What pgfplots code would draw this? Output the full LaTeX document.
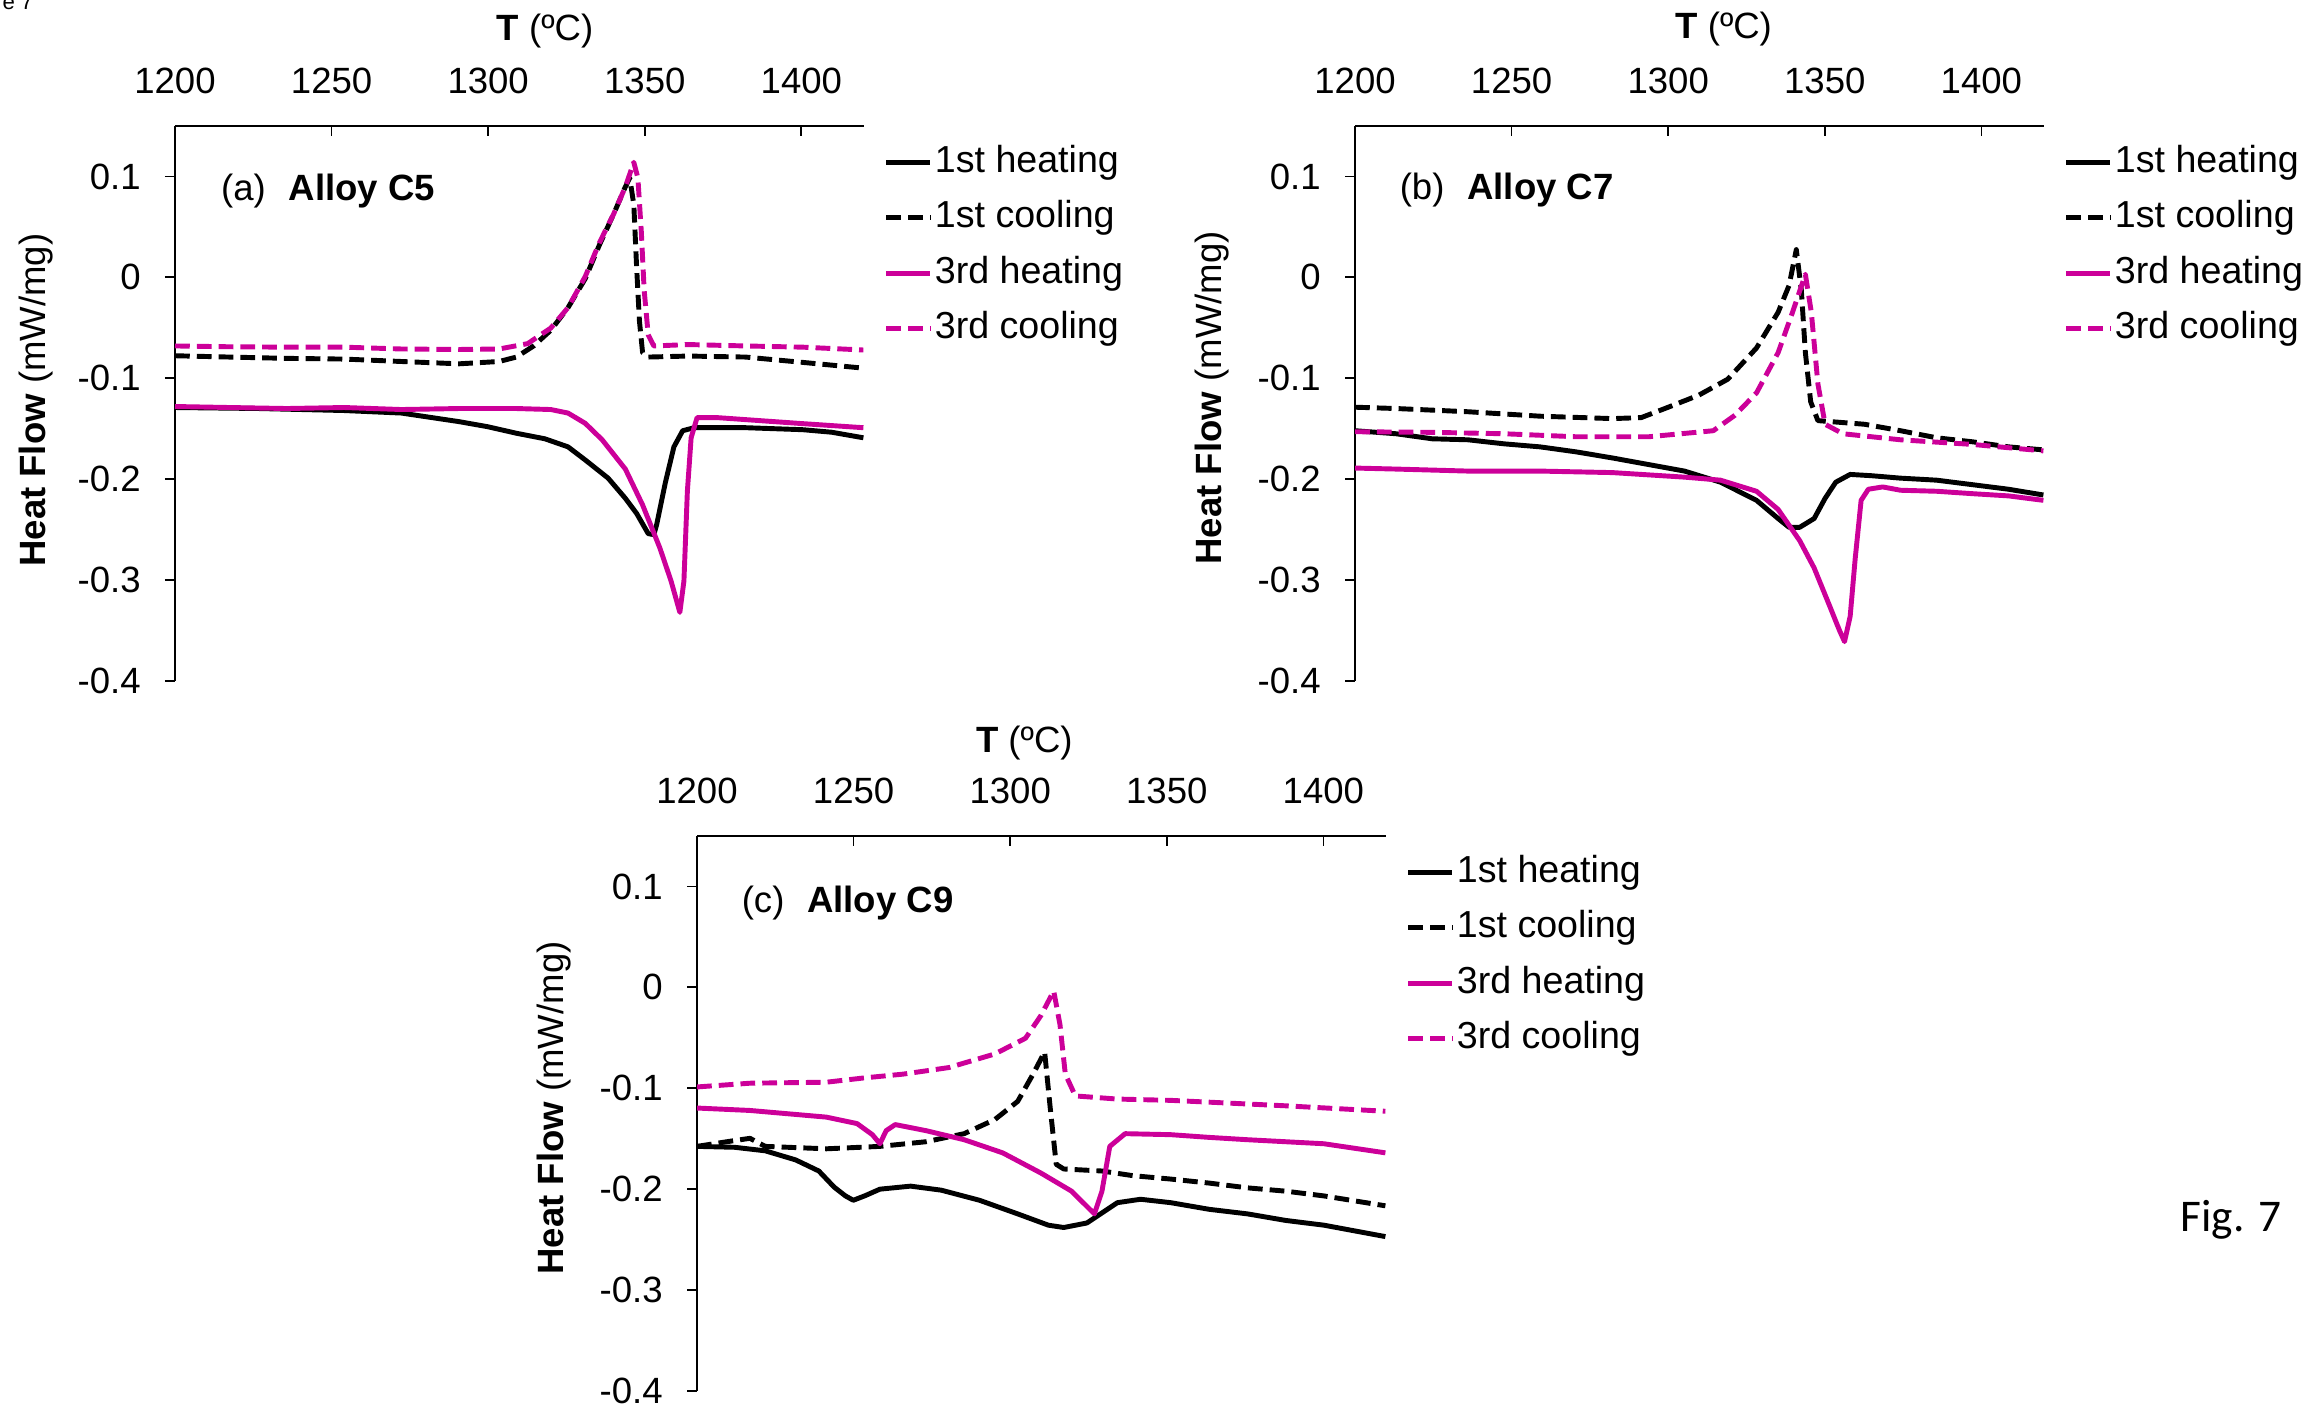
\documentclass[border=0pt]{standalone}
\usepackage{pgfplots}
\pgfplotsset{compat=1.18}
\usepackage{fontspec}
\setmainfont{Liberation Sans}
\newfontfamily\carlito{Carlito}
\definecolor{mag}{RGB}{204,0,153}

% common look of the three DSC panels
\pgfplotsset{
  dsc/.style={
    scale only axis, width=6.89cm, height=5.55cm,
    xmin=1200, xmax=1420, ymin=-0.4, ymax=0.15,
    axis x line=top, axis y line=left,
    axis line style={-, line width=0.5pt},
    every tick/.style={black, line width=0.5pt},
    xtick align=inside, ytick align=outside,
    major tick length=0.1cm,
    xtick={1200,1250,1300,1350,1400},
    xticklabels={1200,1250,1300,1350,1400},
    ytick={-0.4,-0.3,-0.2,-0.1,0,0.1},
    yticklabels={-0.4,-0.3,-0.2,-0.1,0,0.1},
    tick label style={font=\fontsize{10.4}{12}\selectfont},
    xticklabel style={yshift=0.2cm},
    yticklabel style={xshift=-0.12cm},
    clip mode=individual,
    legend cell align=left,
    legend image code/.code={\draw[##1] (0cm,0cm) -- (0.44cm,0cm);},
    legend style={at={(axis description cs:1.028,0.969)}, anchor=north west,
      draw=none, fill=none, inner sep=0pt, row sep=5.3pt,
      font=\fontsize{10.7}{12}\selectfont,
      nodes={inner sep=0pt, text height=8pt, text depth=2.5pt},
      /tikz/every odd column/.style={column sep=0.02cm}},
  },
  h1/.style={black, line width=1.4pt, line join=round},
  c1/.style={black, line width=1.4pt, line join=round, dash pattern=on 4.2pt off 2pt},
  h3/.style={mag, line width=1.4pt, line join=round},
  c3/.style={mag, line width=1.4pt, line join=round, dash pattern=on 4.2pt off 2pt},
}
\newcommand{\txt}{\fontsize{10.4}{12}\selectfont}

\begin{document}
\begin{tikzpicture}
\useasboundingbox (0,0) rectangle (23.10,14.07);

% ---------------- (a) Alloy C5 ----------------
\begin{axis}[dsc, at={(1.75cm,7.26cm)}, anchor=south west]
\addplot[h1] coordinates {
 (1200,-0.129) (1226.6,-0.130) (1254.0,-0.132) (1272.3,-0.1345) (1290.7,-0.143)
 (1299.8,-0.148) (1309.0,-0.1545) (1318.1,-0.160) (1325.5,-0.168) (1331.0,-0.181)
 (1338.3,-0.199) (1343.8,-0.219) (1347.4,-0.234) (1351.1,-0.254) (1352.9,-0.255)
 (1353.8,-0.245) (1356.6,-0.203) (1359.3,-0.168) (1362.1,-0.152) (1365.8,-0.149)
 (1382.2,-0.149) (1400.5,-0.151) (1409.7,-0.1535) (1419.8,-0.159)};
\addlegendentry{1st heating}
\addplot[c1] coordinates {
 (1200,-0.0777) (1217.4,-0.079) (1235.7,-0.0803) (1254.0,-0.081) (1272.3,-0.0834)
 (1290.7,-0.0857) (1303.5,-0.0834) (1309.0,-0.079) (1314.5,-0.068) (1320.0,-0.0524)
 (1325.5,-0.030) (1331.0,-0.0013) (1335.5,0.032) (1340.1,0.063) (1343.8,0.0897)
 (1345.2,0.0985) (1346.5,0.072) (1347.4,0.0098) (1348.3,-0.0435) (1349.3,-0.0746)
 (1351.1,-0.079) (1363.9,-0.078) (1382.2,-0.079) (1400.5,-0.0843) (1419.8,-0.090)};
\addlegendentry{1st cooling}
\addplot[h3] coordinates {
 (1200,-0.128) (1217.4,-0.129) (1235.7,-0.130) (1254.0,-0.129) (1272.3,-0.131)
 (1290.7,-0.130) (1309.0,-0.130) (1320.0,-0.131) (1325.5,-0.1345) (1331.0,-0.1447)
 (1336.4,-0.161) (1343.8,-0.190) (1349.3,-0.2255) (1354.8,-0.268) (1358.4,-0.301)
 (1361.2,-0.332) (1362.5,-0.301) (1363.6,-0.212) (1364.8,-0.159) (1366.7,-0.139)
 (1373.1,-0.139) (1382.2,-0.141) (1400.5,-0.145) (1419.8,-0.149)};
\addlegendentry{3rd heating}
\addplot[c3] coordinates {
 (1200,-0.068) (1217.4,-0.0688) (1235.7,-0.0692) (1254.0,-0.0692) (1272.3,-0.071)
 (1290.7,-0.0715) (1303.5,-0.071) (1312.6,-0.0657) (1320.0,-0.0502) (1325.5,-0.030)
 (1331.0,0.0009) (1335.5,0.0342) (1340.1,0.063) (1343.8,0.0897) (1346.5,0.114)
 (1347.8,0.0985) (1348.9,0.045) (1349.8,-0.0124) (1351.1,-0.057) (1352.9,-0.068)
 (1363.9,-0.0666) (1382.2,-0.068) (1400.5,-0.0692) (1419.8,-0.072)};
\addlegendentry{3rd cooling}
\node[anchor=center, font=\txt] at (axis description cs:0.537,1.171) {\textbf{T} (ºC)};
\node[rotate=90, anchor=center, font=\txt] at (axis description cs:-0.2017,0.506) {\textbf{Heat Flow} (mW/mg)};
\node[anchor=base west, inner sep=0pt, font=\txt] at (axis description cs:0.066,0.865) {(a)\hspace{6.5pt}\textbf{Alloy C5}};
\end{axis}

% ---------------- (b) Alloy C7 ----------------
\begin{axis}[dsc, at={(13.55cm,7.26cm)}, anchor=south west]
\addplot[h1] coordinates {
 (1200,-0.152) (1213.1,-0.155) (1224.6,-0.160) (1236.1,-0.161) (1247.6,-0.165)
 (1259.1,-0.168) (1270.7,-0.173) (1282.2,-0.179) (1293.7,-0.1855) (1305.2,-0.192)
 (1316.7,-0.203) (1328.2,-0.221) (1335.1,-0.239) (1338.6,-0.2477) (1342.0,-0.2477)
 (1346.6,-0.239) (1350.1,-0.219) (1353.5,-0.203) (1358.1,-0.1953) (1365.0,-0.1966)
 (1374.2,-0.199) (1385.7,-0.201) (1397.2,-0.2055) (1408.7,-0.210) (1419.8,-0.2157)};
\addlegendentry{1st heating}
\addplot[c1] coordinates {
 (1200,-0.1287) (1213.1,-0.130) (1236.1,-0.1332) (1259.1,-0.1376) (1282.2,-0.140)
 (1291.4,-0.139) (1300.6,-0.128) (1309.8,-0.1167) (1319.0,-0.101) (1328.2,-0.070)
 (1335.1,-0.0346) (1338.6,-0.008) (1340.9,0.0275) (1342.5,-0.0124) (1343.8,-0.0746)
 (1345.5,-0.1234) (1347.8,-0.142) (1362.7,-0.1456) (1374.2,-0.152) (1385.7,-0.159)
 (1397.2,-0.163) (1408.7,-0.168) (1419.8,-0.171)};
\addlegendentry{1st cooling}
\addplot[h3] coordinates {
 (1200,-0.189) (1213.1,-0.190) (1236.1,-0.192) (1259.1,-0.192) (1282.2,-0.1935)
 (1305.2,-0.198) (1316.7,-0.201) (1328.2,-0.212) (1335.1,-0.230) (1342.0,-0.261)
 (1346.6,-0.288) (1351.2,-0.323) (1354.7,-0.350) (1356.3,-0.361) (1358.1,-0.336)
 (1359.7,-0.279) (1361.6,-0.221) (1363.9,-0.210) (1368.5,-0.2077) (1374.2,-0.211)
 (1385.7,-0.212) (1397.2,-0.2144) (1408.7,-0.2166) (1419.8,-0.221)};
\addlegendentry{3rd heating}
\addplot[c3] coordinates {
 (1200,-0.153) (1224.6,-0.1536) (1247.6,-0.155) (1270.7,-0.158) (1293.7,-0.158)
 (1314.4,-0.152) (1321.3,-0.1367) (1328.2,-0.1145) (1335.1,-0.0746) (1339.7,-0.0346)
 (1343.8,0.003) (1345.7,-0.0346) (1347.8,-0.1056) (1350.1,-0.1456) (1355.8,-0.155)
 (1374.2,-0.161) (1397.2,-0.1656) (1419.8,-0.172)};
\addlegendentry{3rd cooling}
\node[anchor=center, font=\txt] at (axis description cs:0.535,1.175) {\textbf{T} (ºC)};
\node[rotate=90, anchor=center, font=\txt] at (axis description cs:-0.208,0.51) {\textbf{Heat Flow} (mW/mg)};
\node[anchor=base west, inner sep=0pt, font=\txt] at (axis description cs:0.064,0.867) {(b)\hspace{6.5pt}\textbf{Alloy C7}};
\end{axis}

% ---------------- (c) Alloy C9 ----------------
\begin{axis}[dsc, at={(6.97cm,0.16cm)}, anchor=south west]
\addplot[h1] coordinates {
 (1200,-0.1576) (1212.0,-0.1585) (1221.8,-0.162) (1231.5,-0.171) (1238.9,-0.182)
 (1243.8,-0.198) (1247.4,-0.2067) (1249.9,-0.211) (1253.5,-0.2067) (1258.4,-0.200)
 (1268.2,-0.197) (1278.0,-0.201) (1290.2,-0.211) (1302.4,-0.2245) (1312.2,-0.2357)
 (1317.1,-0.238) (1324.5,-0.2335) (1334.2,-0.2134) (1341.6,-0.210) (1351.3,-0.2134)
 (1363.6,-0.220) (1375.8,-0.2245) (1388.0,-0.231) (1400.2,-0.2357) (1419.8,-0.247)};
\addlegendentry{1st heating}
\addplot[c1] coordinates {
 (1200,-0.1576) (1209.5,-0.153) (1216.9,-0.1496) (1221.8,-0.1576) (1241.3,-0.160)
 (1258.4,-0.1576) (1273.1,-0.153) (1285.3,-0.145) (1295.1,-0.131) (1302.4,-0.113)
 (1307.3,-0.086) (1311.0,-0.064) (1312.7,-0.117) (1314.7,-0.1754) (1317.1,-0.180)
 (1329.3,-0.182) (1339.1,-0.1866) (1351.3,-0.190) (1363.6,-0.194) (1375.8,-0.1987)
 (1388.0,-0.202) (1400.2,-0.2067) (1419.8,-0.2165)};
\addlegendentry{1st cooling}
\addplot[h3] coordinates {
 (1200,-0.1196) (1216.9,-0.122) (1241.3,-0.1286) (1251.1,-0.135) (1256.0,-0.146)
 (1258.4,-0.155) (1260.4,-0.142) (1263.3,-0.136) (1273.1,-0.142) (1285.3,-0.151)
 (1297.6,-0.164) (1309.8,-0.184) (1319.6,-0.202) (1326.9,-0.2245) (1329.3,-0.202)
 (1331.8,-0.1576) (1336.7,-0.145) (1351.3,-0.146) (1363.6,-0.1487) (1375.8,-0.151)
 (1388.0,-0.153) (1400.2,-0.155) (1419.8,-0.164)};
\addlegendentry{3rd heating}
\addplot[c3] coordinates {
 (1200,-0.0987) (1216.9,-0.095) (1241.3,-0.094) (1253.5,-0.0897) (1265.8,-0.086)
 (1280.4,-0.0795) (1295.1,-0.066) (1304.9,-0.0504) (1309.8,-0.028) (1313.9,-0.0036)
 (1315.9,-0.037) (1317.6,-0.086) (1320.8,-0.1076) (1334.2,-0.1107) (1351.3,-0.112)
 (1363.6,-0.1138) (1388.0,-0.1174) (1419.8,-0.1228)};
\addlegendentry{3rd cooling}
\node[anchor=center, font=\txt] at (axis description cs:0.475,1.168) {\textbf{T} (ºC)};
\node[rotate=90, anchor=center, font=\txt] at (axis description cs:-0.208,0.51) {\textbf{Heat Flow} (mW/mg)};
\node[anchor=base west, inner sep=0pt, font=\txt] at (axis description cs:0.064,0.863) {(c)\hspace{6.5pt}\textbf{Alloy C9}};
\end{axis}

\node[anchor=base west, inner sep=0pt, font=\carlito\fontsize{12.9}{15}\selectfont] at (21.80,1.75) {Fig. 7};
\node[anchor=base east, inner sep=0pt, font=\fontsize{6.3}{7}\selectfont] at (0.34,13.97) {Figure 7};
\end{tikzpicture}
\end{document}
